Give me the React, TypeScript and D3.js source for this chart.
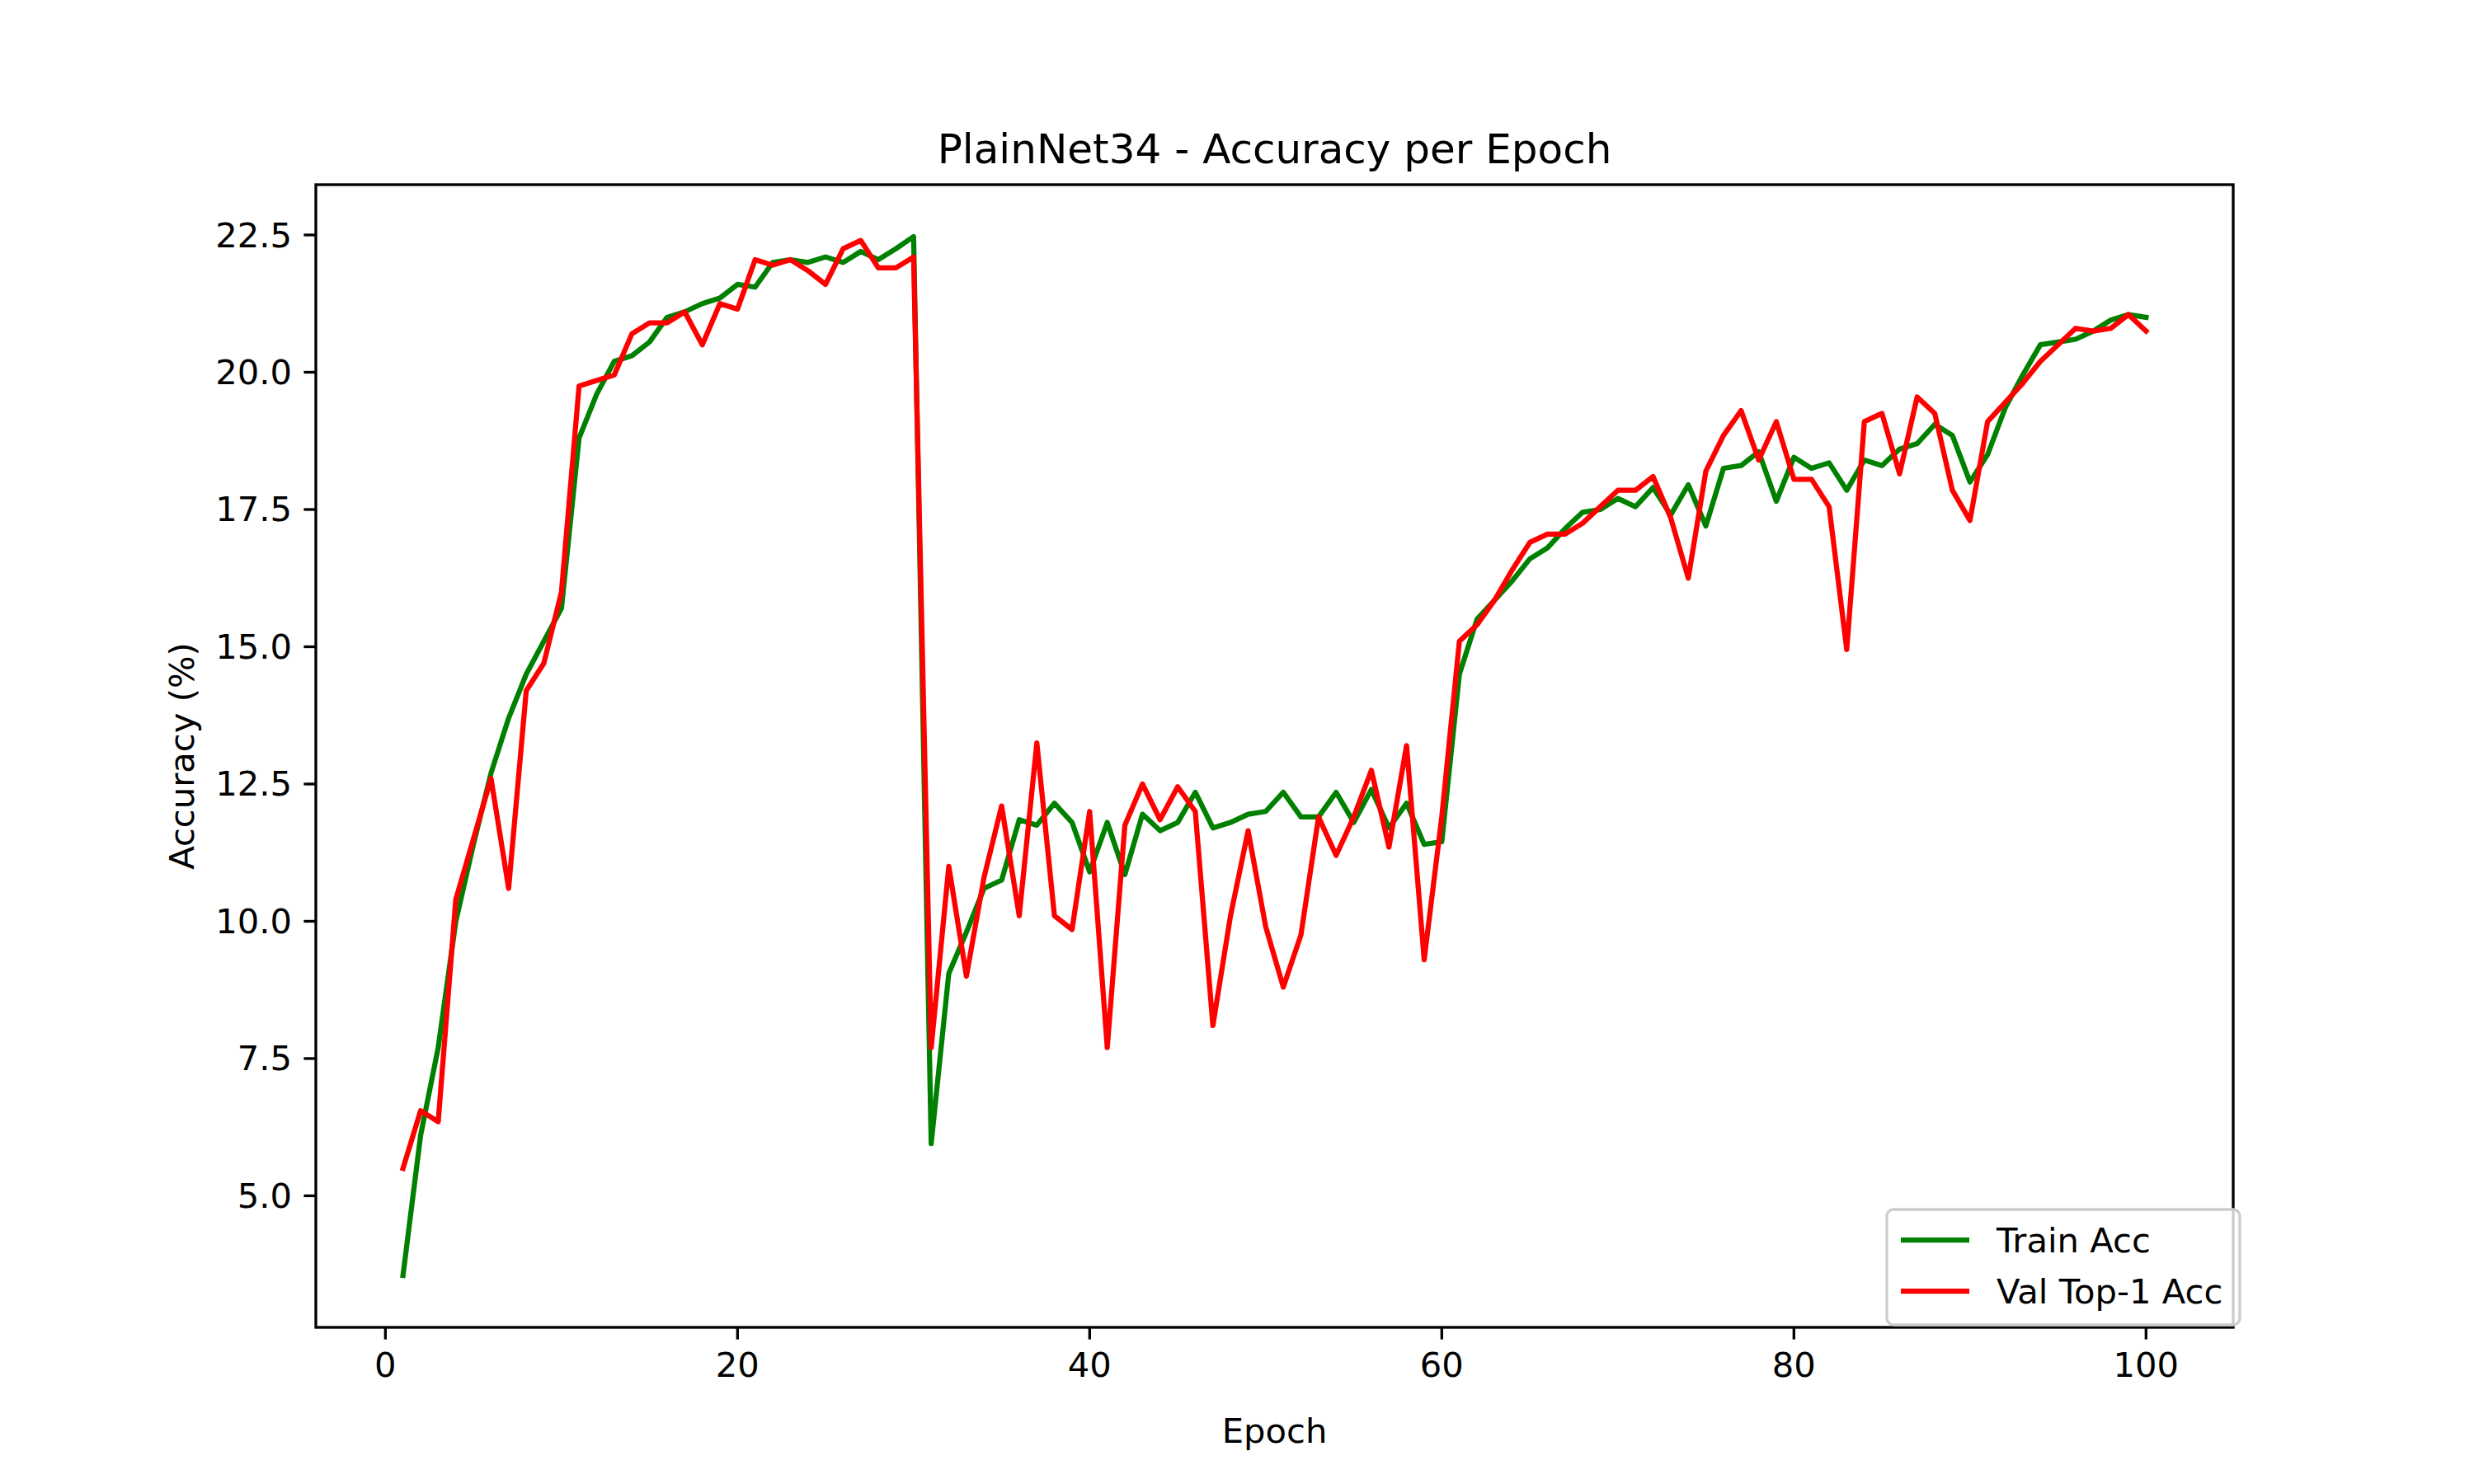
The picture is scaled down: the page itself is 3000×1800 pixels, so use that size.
import React from "react";
import * as d3 from "d3";

const epochs = d3.range(1, 101);
const trainAcc = [3.55,6.1,7.7,10.0,11.4,12.7,13.7,14.5,15.1,15.7,18.8,19.6,20.2,20.3,20.55,21.0,21.1,21.25,21.35,21.6,21.55,22.0,22.05,22.0,22.1,22.0,22.2,22.05,22.25,22.47,
5.95,9.05,9.8,10.6,10.75,11.85,11.75,12.15,11.8,10.9,11.8,10.85,11.95,11.65,11.8,12.35,11.7,11.8,11.95,12.0,12.35,11.9,11.9,12.35,11.8,12.4,11.7,12.15,11.4,11.45,
14.5,15.5,15.85,16.2,16.6,16.8,17.15,17.45,17.5,17.7,17.55,17.9,17.4,17.95,17.2,18.25,18.3,18.55,17.65,18.45,18.25,18.35,17.85,18.4,18.3,18.6,18.7,19.05,18.85,18.0,18.5,19.35,19.95,20.5,20.55,20.6,20.75,20.95,21.05,21.0];
const valAcc = [5.5,6.55,6.35,10.4,11.5,12.6,10.6,14.2,14.7,16.0,19.75,19.85,19.95,20.7,20.9,20.9,21.1,20.5,21.25,21.15,22.05,21.95,22.05,21.85,21.6,22.25,22.4,21.9,21.9,22.1,
7.7,11.0,9.0,10.8,12.1,10.1,13.25,10.1,9.85,12.0,7.7,11.75,12.5,11.85,12.45,12.0,8.1,10.1,11.65,9.9,8.8,9.75,11.9,11.2,11.9,12.75,11.35,13.2,9.3,11.9,
15.1,15.4,15.85,16.4,16.9,17.05,17.05,17.25,17.55,17.85,17.85,18.1,17.35,16.25,18.2,18.85,19.3,18.4,19.1,18.05,18.05,17.55,14.95,19.1,19.25,18.15,19.55,19.25,17.85,17.3,19.1,19.45,19.8,20.2,20.5,20.8,20.75,20.8,21.05,20.75];
const xTicks = [0, 20, 40, 60, 80, 100];
const yTicks = [5.0, 7.5, 10.0, 12.5, 15.0, 17.5, 20.0, 22.5];
const seriesNames = ["Train Acc", "Val Top-1 Acc"];
const seriesColors = ["green", "red"];

const W = 3000, H = 1800;
const L = 375, R = 2700, T = 216, B = 1602;
const FONT = "DejaVu Sans, sans-serif";
const FS = 41.7;

export default function App() {
  const all = [...trainAcc, ...valAcc];
  const ymin = d3.min(all)!, ymax = d3.max(all)!;
  const yr = ymax - ymin;
  const x = d3.scaleLinear().domain([1 - 99 * 0.05, 100 + 99 * 0.05]).range([L, R]);
  const y = d3.scaleLinear().domain([ymin - yr * 0.05, ymax + yr * 0.05]).range([B, T]);
  const line = d3.line<number>().x((_, i) => x(epochs[i])).y((d) => y(d));
  const series = [trainAcc, valAcc];
  const lx = 2280, ly = 1459, lw = 428, lh = 140;
  return (
    <svg width={W} height={H} style={{ display: "block", background: "white" }} fontFamily={FONT}>
      <rect width={W} height={H} fill="white" />
      <defs>
        <clipPath id="clip"><rect x={L} y={T} width={R - L} height={B - T} /></clipPath>
      </defs>
      <g clipPath="url(#clip)">
        {series.map((s, i) => (
          <path key={i} d={line(s)!} fill="none" stroke={seriesColors[i]} strokeWidth={6.25} strokeLinejoin="round" strokeLinecap="square" />
        ))}
      </g>
      <rect x={L} y={T} width={R - L} height={B - T} fill="none" stroke="black" strokeWidth={3.33} />
      {xTicks.map((t) => (
        <g key={t}>
          <line x1={x(t)} x2={x(t)} y1={B} y2={B + 14.6} stroke="black" strokeWidth={3.33} />
          <text x={x(t)} y={B + 29} fontSize={FS} textAnchor="middle" dominantBaseline="hanging">{t}</text>
        </g>
      ))}
      {yTicks.map((t) => (
        <g key={t}>
          <line x1={L - 14.6} x2={L} y1={y(t)} y2={y(t)} stroke="black" strokeWidth={3.33} />
          <text x={L - 29} y={y(t)} fontSize={FS} textAnchor="end" dominantBaseline="central">{t.toFixed(1)}</text>
        </g>
      ))}
      <text x={(L + R) / 2} y={1742} fontSize={FS} textAnchor="middle">Epoch</text>
      <text transform={`translate(227,${(T + B) / 2}) rotate(-90)`} fontSize={FS} textAnchor="middle">Accuracy (%)</text>
      <text x={(L + R) / 2} y={190} fontSize={50} textAnchor="middle">PlainNet34 - Accuracy per Epoch</text>
      <rect x={lx} y={ly} width={lw} height={lh} rx={8} fill="white" fillOpacity={0.8} stroke="#cccccc" strokeWidth={3.33} />
      {seriesNames.map((n, i) => (
        <g key={n}>
          <line x1={lx + 17} x2={lx + 100} y1={ly + 37 + i * 62} y2={ly + 37 + i * 62} stroke={seriesColors[i]} strokeWidth={6.25} />
          <text x={lx + 133} y={ly + 37 + i * 62} fontSize={FS} dominantBaseline="central">{n}</text>
        </g>
      ))}
    </svg>
  );
}
